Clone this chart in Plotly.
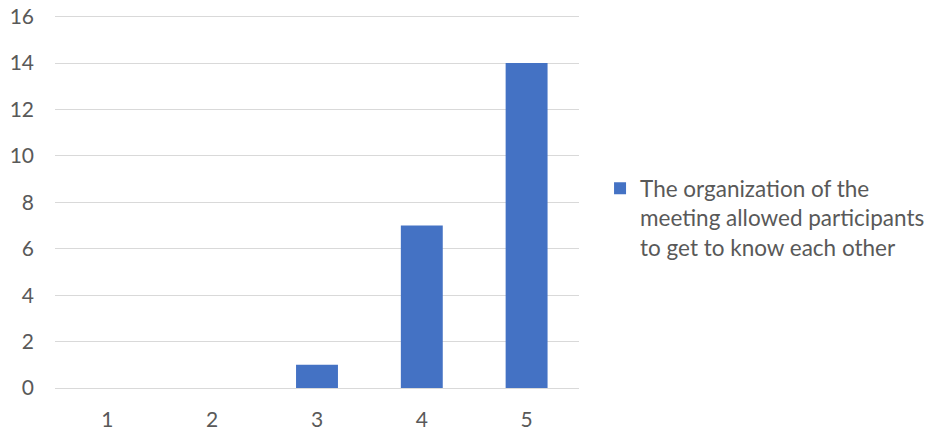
import plotly.graph_objects as go

categories = ["1", "2", "3", "4", "5"]
values = [0, 0, 1, 7, 14]
series_name = "The organization of the<br>meeting allowed participants<br>to get to know each other"
y_ticks = [0, 2, 4, 6, 8, 10, 12, 14, 16]

FONT = "Lato"
TXT = "#595959"

fig = go.Figure()
fig.add_trace(go.Bar(
    x=categories, y=values, name=series_name,
    marker=dict(color="#4472C4", line=dict(width=0)),
    showlegend=True,
))

fig.update_layout(
    width=928, height=432,
    margin=dict(l=55, r=349, t=12, b=44, pad=0, autoexpand=False),
    paper_bgcolor="white", plot_bgcolor="white",
    font=dict(family=FONT, size=22, color=TXT),
    bargap=0.6,
    showlegend=True,
    legend=dict(
        x=0.6466, y=0.613, xanchor="left", yanchor="top",
        xref="container", yref="container",
        valign="top",
        font=dict(family=FONT, size=22.5, color=TXT),
        bgcolor="rgba(0,0,0,0)", borderwidth=0,
    ),
    xaxis=dict(
        type="category", showgrid=False, zeroline=False, automargin=False,
        showline=False, ticks="", ticklabelstandoff=17,
        tickfont=dict(family=FONT, size=21, color=TXT),
    ),
    yaxis=dict(
        range=[0, 16.2], tickvals=y_ticks, showgrid=True, automargin=False,
        gridcolor="#d9d9d9", gridwidth=1.3, zeroline=True,
        zerolinecolor="#d9d9d9", zerolinewidth=1.3,
        showline=False, ticks="", ticklabelstandoff=20,
        tickfont=dict(family=FONT, size=21, color=TXT),
    ),
)

fig.write_html(
    "out.html",
    config={"responsive": False, "displayModeBar": False},
    post_script="document.body.style.margin='0';document.body.style.overflow='hidden';",
)
